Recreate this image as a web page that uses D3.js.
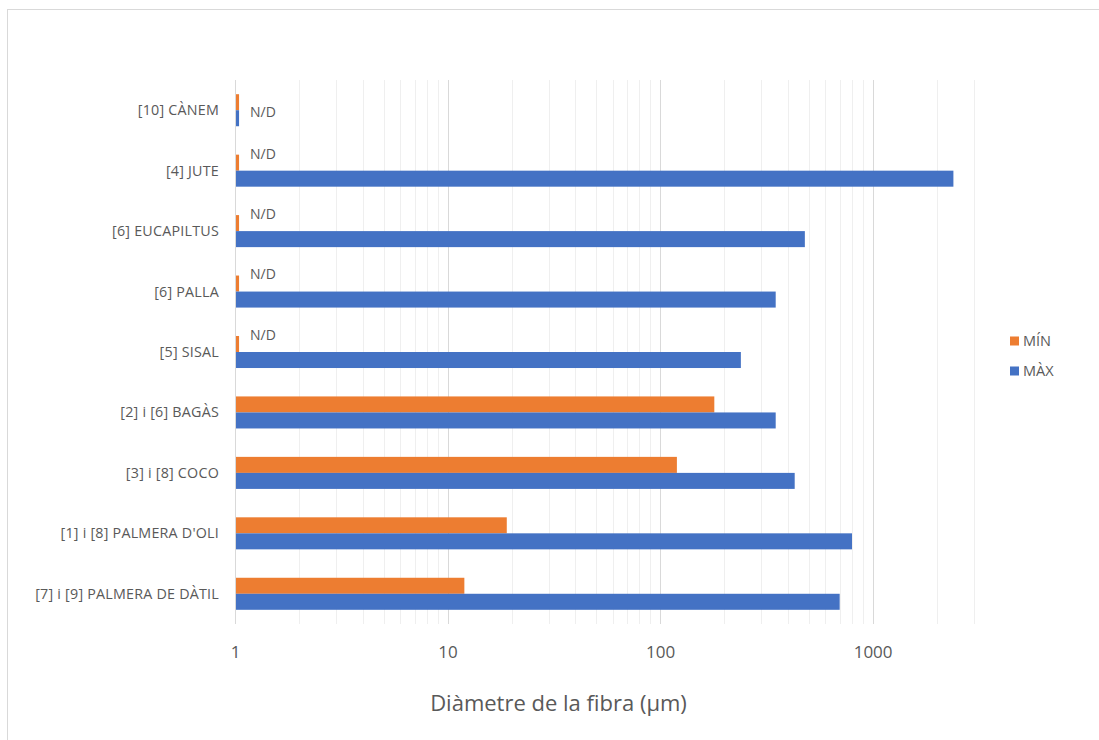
<!DOCTYPE html>
<html>
<head>
<meta charset="utf-8">
<script src="https://cdn.jsdelivr.net/npm/d3@7"></script>
<style>
  html, body { margin: 0; padding: 0; background: #ffffff; }
  svg { display: block; }
  text { font-family: "Open Sans", "Noto Sans", sans-serif; fill: #595959; }
</style>
</head>
<body>
<svg id="chart" width="1099" height="740"></svg>
<script>
// Fibre diameter ranges (µm), listed top to bottom
const categories = [
  "[10] CÀNEM",
  "[4] JUTE",
  "[6] EUCAPILTUS",
  "[6] PALLA",
  "[5] SISAL",
  "[2] i [6] BAGÀS",
  "[3] i [8] COCO",
  "[1] i [8] PALMERA D'OLI",
  "[7] i [9] PALMERA DE DÀTIL"
];
const seriesNames = ["MÍN", "MÀX"];
// null = no data available (N/D)
const minValues = [null, null, null, null, null, 180, 120, 19, 12];
const maxValues = [null, 2400, 480, 350, 240, 350, 430, 800, 700];
const tickValues = [1, 10, 100, 1000];
const axisTitle = "Diàmetre de la fibra (µm)";
const missingLabel = "N/D";
// Missing values are drawn as a short stub just past the axis origin
const stubValue = 1.045;

const colors = { "MÍN": "#ED7D31", "MÀX": "#4472C4" };

const svg = d3.select("#chart");

// Outer chart frame
svg.append("rect")
  .attr("x", 7.5).attr("y", 9.5)
  .attr("width", 1300).attr("height", 900)
  .attr("fill", "none").attr("stroke", "#d9d9d9").attr("stroke-width", 1);

const plot = { left: 235, right: 974, top: 80, bottom: 624 };

const x = d3.scaleLog().domain([1, 3000]).range([plot.left, plot.right]);
const y = d3.scaleBand().domain(categories)
  .range([plot.top, plot.bottom]).paddingInner(0.47).paddingOuter(0.235);
const ySub = d3.scaleBand().domain(seriesNames).range([0, y.bandwidth()]);

// Log gridlines: minor for every 1..9 step, major at each decade
const minorTicks = [];
for (let p = 0; p <= 3; p++) {
  for (let m = 1; m <= 9; m++) {
    const v = m * Math.pow(10, p);
    if (v <= 3000) minorTicks.push(v);
  }
}
const grid = svg.append("g");
grid.selectAll("line.minor")
  .data(minorTicks.filter(v => !tickValues.includes(v)))
  .join("line")
  .attr("class", "minor")
  .attr("x1", d => Math.round(x(d)) + 0.5).attr("x2", d => Math.round(x(d)) + 0.5)
  .attr("y1", plot.top).attr("y2", plot.bottom)
  .attr("stroke", "#efefef").attr("stroke-width", 1);
grid.selectAll("line.major")
  .data(tickValues)
  .join("line")
  .attr("class", "major")
  .attr("x1", d => Math.round(x(d)) + 0.5).attr("x2", d => Math.round(x(d)) + 0.5)
  .attr("y1", plot.top).attr("y2", plot.bottom)
  .attr("stroke", "#d9d9d9").attr("stroke-width", 1);

// Bars
const rows = categories.map((c, i) => ({
  category: c,
  values: [
    { series: "MÍN", value: minValues[i] },
    { series: "MÀX", value: maxValues[i] }
  ]
}));

const groups = svg.append("g").selectAll("g")
  .data(rows).join("g")
  .attr("transform", d => `translate(0,${y(d.category)})`);

groups.selectAll("rect")
  .data(d => d.values)
  .join("rect")
  .attr("x", x(1))
  .attr("y", d => ySub(d.series))
  .attr("width", d => x(d.value == null ? stubValue : d.value) - x(1))
  .attr("height", ySub.bandwidth())
  .attr("fill", d => colors[d.series]);

// N/D labels for missing values
groups.each(function(d) {
  const missing = d.values.filter(v => v.value == null);
  if (!missing.length) return;
  const g = d3.select(this);
  let cy;
  if (missing.length === 2) cy = y.bandwidth() / 2 + 2;
  else cy = ySub(missing[0].series) + ySub.bandwidth() / 2 - 9;
  g.append("text")
    .attr("x", x(stubValue) + 11)
    .attr("y", cy)
    .attr("dy", "0.35em")
    .attr("font-size", 14)
    .text(missingLabel);
});

// Category axis labels
svg.append("g").selectAll("text")
  .data(categories).join("text")
  .attr("x", 219)
  .attr("y", d => y(d) + y.bandwidth() / 2)
  .attr("dy", "0.35em")
  .attr("text-anchor", "end")
  .attr("font-size", 14.3)
  .attr("letter-spacing", 0.22)
  .text(d => d);

// Category axis line
svg.append("line")
  .attr("x1", plot.left + 0.5).attr("x2", plot.left + 0.5)
  .attr("y1", plot.top).attr("y2", plot.bottom)
  .attr("stroke", "#d9d9d9");

// Value axis labels
const xAxis = d3.axisBottom(x)
  .tickValues(tickValues)
  .tickFormat(d3.format("d"))
  .tickSize(0)
  .tickPadding(0);
const xg = svg.append("g")
  .attr("transform", `translate(0,${plot.bottom})`)
  .call(xAxis);
xg.select(".domain").remove();
xg.selectAll("text")
  .attr("y", 34)
  .attr("dy", 0)
  .attr("font-size", 17)
  .attr("font-family", null)
  .attr("fill", null);

// Axis title
svg.append("text")
  .attr("x", (plot.left + plot.right) / 2 - 46)
  .attr("y", 711)
  .attr("text-anchor", "middle")
  .attr("font-size", 22)
  .text(axisTitle);

// Legend
const legend = svg.append("g").attr("transform", "translate(1010,0)");
const legendY = { "MÍN": 341, "MÀX": 371 };
seriesNames.forEach(s => {
  legend.append("rect")
    .attr("x", 0).attr("y", legendY[s] - 4.5)
    .attr("width", 9).attr("height", 9)
    .attr("fill", colors[s]);
  legend.append("text")
    .attr("x", 13).attr("y", legendY[s])
    .attr("dy", "0.35em")
    .attr("font-size", 14.5)
    .text(s);
});
</script>
</body>
</html>
